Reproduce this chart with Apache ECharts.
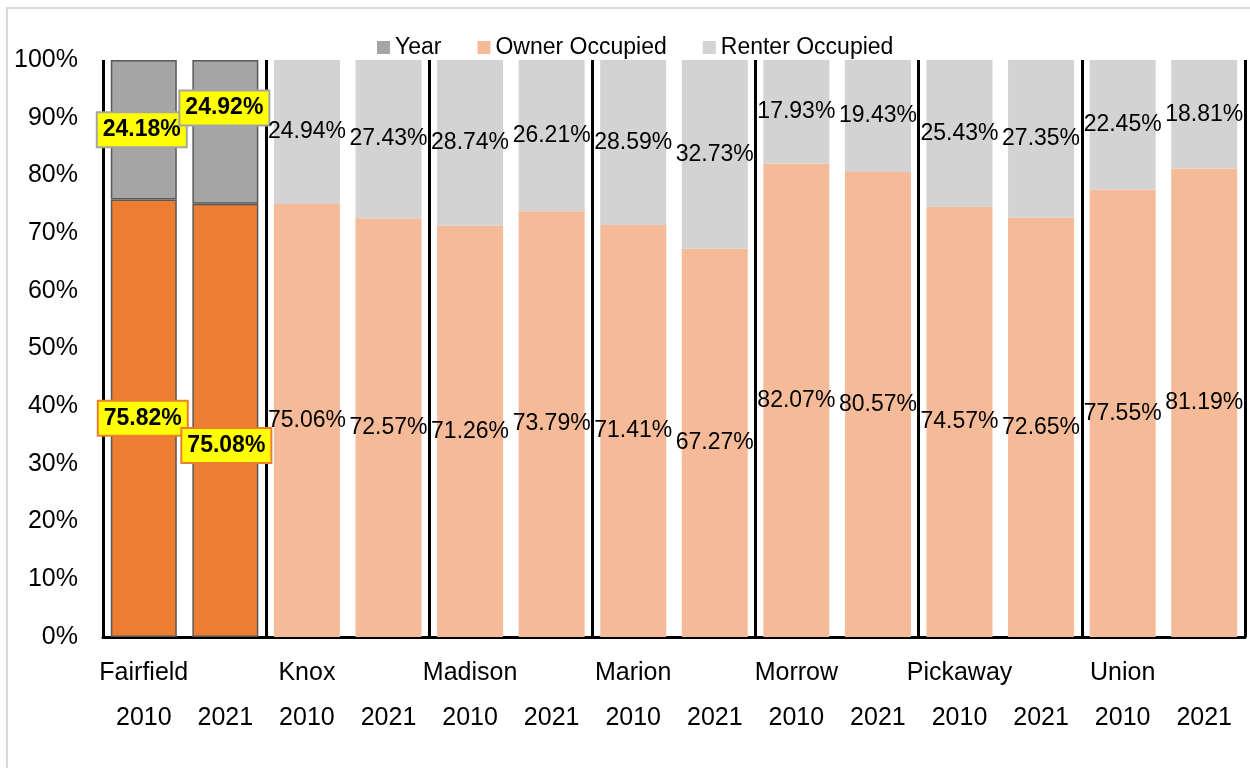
<!DOCTYPE html>
<html>
<head>
<meta charset="utf-8">
<script src="https://cdn.jsdelivr.net/npm/echarts@6/dist/echarts.min.js"></script>
<style>
  html, body { margin: 0; padding: 0; background: #fff; }
  #chart { width: 1250px; height: 768px; }
</style>
</head>
<body>
<div id="chart"></div>
<script>
  var counties = ['Fairfield', 'Knox', 'Madison', 'Marion', 'Morrow', 'Pickaway', 'Union'];
  var years = ['2010', '2021'];
  var owner = [75.82, 75.08, 75.06, 72.57, 71.26, 73.79, 71.41, 67.27, 82.07, 80.57, 74.57, 72.65, 77.55, 81.19];
  var renter = [24.18, 24.92, 24.94, 27.43, 28.74, 26.21, 28.59, 32.73, 17.93, 19.43, 25.43, 27.35, 22.45, 18.81];

  var font = 'Liberation Sans, Arial, sans-serif';

  // one category per bar, county name only on the first bar of each pair
  var yearCats = [], countyCats = [];
  counties.forEach(function (c) {
    years.forEach(function (y, j) {
      yearCats.push(y);
      countyCats.push(j === 0 ? c : ' ');
    });
  });

  // Fairfield is highlighted
  var hlLabel = {
    fontWeight: 'bold',
    backgroundColor: '#FFFF00',
    borderWidth: 2,
    padding: [6, 5, 4, 5]
  };
  var ownerData = owner.map(function (v, i) {
    if (i > 1) return v;
    return {
      value: v,
      itemStyle: { color: '#ED7D31', borderColor: '#595959', borderWidth: 1.5 },
      label: Object.assign({}, hlLabel, { borderColor: '#ED7D31', offset: i === 1 ? [1, 25] : [-1, 0] })
    };
  });
  var renterData = renter.map(function (v, i) {
    if (i > 1) return v;
    return {
      value: v,
      itemStyle: { color: '#A5A5A5', borderColor: '#595959', borderWidth: 1.5 },
      label: Object.assign({}, hlLabel, { borderColor: '#A5A5A5', offset: i === 1 ? [-1, -24] : [-2, 0] })
    };
  });

  var chart = echarts.init(document.getElementById('chart'));
  chart.setOption({
    animation: false,
    textStyle: { fontFamily: font },
    graphic: [{
      type: 'rect',
      shape: { x: 7, y: 8, width: 1300, height: 800 },
      style: { fill: 'none', stroke: '#D9D9D9', lineWidth: 2 },
      silent: true
    }],
    legend: {
      top: 31,
      left: 372,
      itemWidth: 13,
      itemHeight: 13,
      itemGap: 36,
      icon: 'rect',
      textStyle: { fontSize: 23, color: '#000', fontFamily: font },
      data: ['Year', 'Owner Occupied', 'Renter Occupied']
    },
    grid: { left: 103, right: 5, top: 60, bottom: 131 },
    xAxis: [
      {
        type: 'category',
        data: counties,
        position: 'bottom',
        axisLine: { lineStyle: { color: '#000', width: 3 } },
        axisTick: { length: 98, lineStyle: { color: '#000', width: 3 } },
        splitLine: { show: true, lineStyle: { color: '#000', width: 3 } },
        axisLabel: { show: false }
      },
      {
        type: 'category',
        data: yearCats,
        position: 'bottom',
        axisLine: { show: false },
        axisTick: { show: false },
        axisLabel: { margin: 69, fontSize: 25, color: '#000', fontFamily: font, interval: 0 }
      },
      {
        type: 'category',
        data: countyCats,
        position: 'bottom',
        axisLine: { show: false },
        axisTick: { show: false },
        axisLabel: { margin: 24, fontSize: 25, color: '#000', fontFamily: font, interval: 0 }
      }
    ],
    yAxis: {
      type: 'value',
      min: 0,
      max: 100,
      interval: 10,
      axisLine: { show: false },
      axisTick: { show: false },
      splitLine: { show: false },
      axisLabel: { formatter: '{value}%', fontSize: 25, color: '#000', fontFamily: font, margin: 25 }
    },
    series: [
      {
        name: 'Year',
        type: 'bar',
        xAxisIndex: 1,
        stack: 'all',
        itemStyle: { color: '#A5A5A5' },
        data: []
      },
      {
        name: 'Owner Occupied',
        type: 'bar',
        xAxisIndex: 1,
        stack: 'all',
        barWidth: 66,
        itemStyle: { color: '#F5BB98' },
        label: { show: true, position: 'inside', formatter: '{c}%', fontSize: 23, color: '#000', fontFamily: font },
        data: ownerData
      },
      {
        name: 'Renter Occupied',
        type: 'bar',
        xAxisIndex: 1,
        stack: 'all',
        barWidth: 66,
        itemStyle: { color: '#D3D3D3' },
        label: { show: true, position: 'inside', formatter: '{c}%', fontSize: 23, color: '#000', fontFamily: font },
        data: renterData
      }
    ]
  });
</script>
</body>
</html>
